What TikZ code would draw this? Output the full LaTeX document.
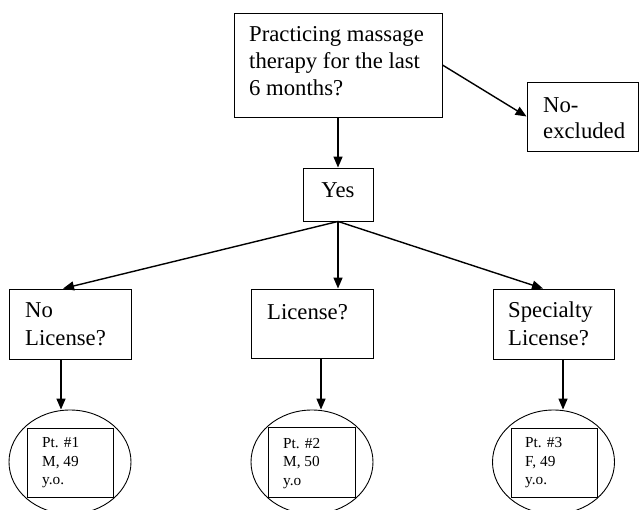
\documentclass[tikz,border=0pt]{standalone}
\usepackage{fontspec}
\setmainfont{Liberation Serif}
\usetikzlibrary{arrows.meta,shapes.geometric}
\begin{document}
\begin{tikzpicture}[x=1pt,y=-1pt,
  box/.style={draw,line width=0.9pt,inner sep=0,minimum width=#1},
  lbl/.style={inner sep=0,align=left,anchor=base west,font=\fontsize{22.7}{27}\selectfont},
  sml/.style={inner sep=0,align=left,anchor=base west,font=\fontsize{15.3}{18.3}\selectfont},
  oval/.style={draw,line width=0.9pt,ellipse,inner sep=0,minimum width=122,minimum height=104},
  arr/.style={line width=1.4pt,-{Triangle[length=11pt,width=9pt]}}]
\useasboundingbox (0,0) rectangle (639,510);
% boxes
\node[box=208,minimum height=104] (top) at (338,65) {};
\node[box=111,minimum height=69] (noex) at (582.5,116.5) {};
\node[box=70,minimum height=53] (yes) at (338,194.5) {};
\node[box=122,minimum height=70] (nolic) at (70,324) {};
\node[box=122,minimum height=69] (lic) at (312,323.5) {};
\node[box=121,minimum height=70] (spec) at (553.5,324) {};
% ovals and inner boxes
\node[oval] (e1) at (70,462) {};
\node[oval] (e2) at (312,462) {};
\node[oval] (e3) at (553.5,462) {};
\node[box=86,minimum height=69] (r1) at (70,462.5) {};
\node[box=87,minimum height=70] (r2) at (311.5,462) {};
\node[box=86,minimum height=69] (r3) at (554,462.5) {};
% texts (anchored at the baseline of the last line)
\node[lbl] (ttop) at (249,96) {Practicing massage\\therapy for the last\\6 months?};
\node[lbl,font=\fontsize{22.7}{25.5}\selectfont] (tnoex) at (543,138.5) {No-\\excluded};
\node[lbl,anchor=base] (tyes) at (338,198) {Yes};
\node[lbl,font=\fontsize{22.7}{28}\selectfont] (tnolic) at (25,345) {No\\License?};
\node[lbl] (tlic) at (267,319) {License?};
\node[lbl,font=\fontsize{22.7}{28}\selectfont] (tspec) at (508,345) {Specialty\\License?};
\node[sml] (t1) at (42,484.5) {Pt. \#1\\M, 49\\y.o.};
\node[sml] (t2) at (283,485) {Pt. \#2\\M, 50\\y.o};
\node[sml] (t3) at (525,484.5) {Pt. \#3\\F, 49\\y.o.};
% connectors
\draw[arr] (top.south) -- (yes.north);
\draw[arr] (top.east) -- (noex.west);
\draw[arr] (yes.south) -- ([xshift=-7pt]nolic.north);
\draw[arr] (yes.south) -- (yes.south |- lic.north);
\draw[arr] (yes.south) -- ([xshift=-10.5pt]spec.north);
\draw[arr] ([xshift=-9pt]nolic.south) -- ([xshift=-9pt]e1.north);
\draw[arr] ([xshift=9pt]lic.south) -- ([xshift=9pt]e2.north);
\draw[arr] ([xshift=9.5pt]spec.south) -- ([xshift=9.5pt]e3.north);
\end{tikzpicture}
\end{document}
